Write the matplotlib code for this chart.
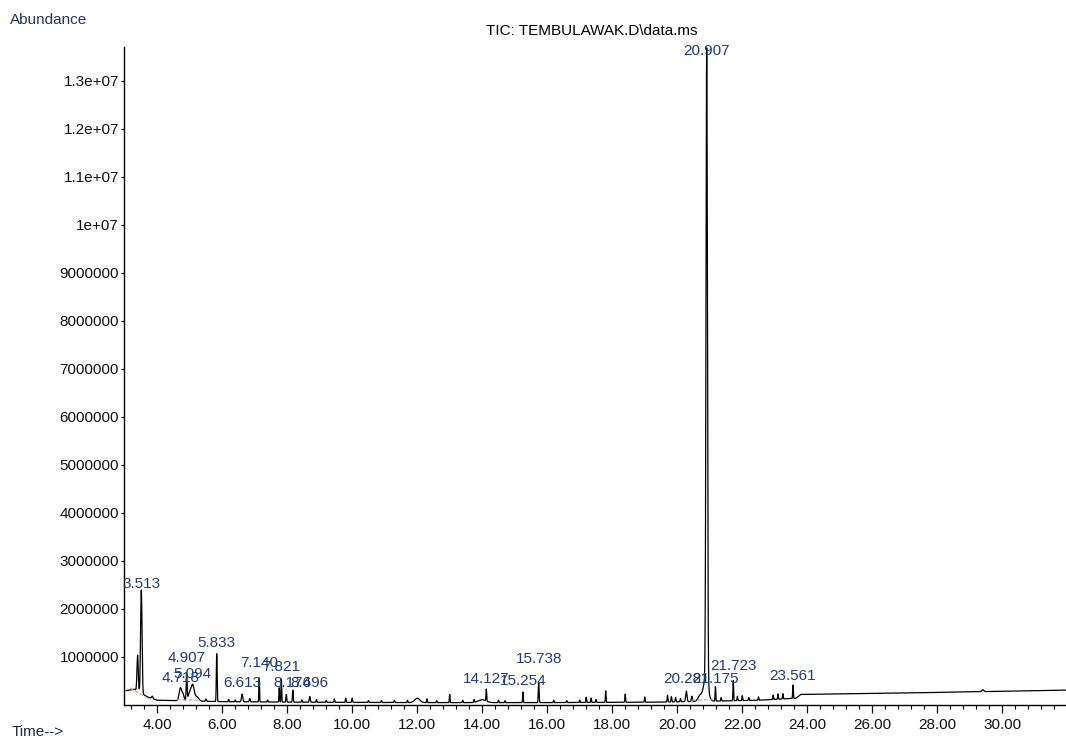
import numpy as np
import matplotlib
matplotlib.use('Agg')
import matplotlib.pyplot as plt
from matplotlib.ticker import FixedLocator, MultipleLocator

plt.rcParams['font.family'] = ['Liberation Sans', 'DejaVu Sans']

# peak table: retention time (min), height above baseline, sigma (min)
peak_rt = [3.40, 3.513, 3.85, 4.718, 4.80, 4.907, 5.00, 5.094, 5.22, 5.50,
           5.833, 6.20, 6.40, 6.613, 6.85, 7.140, 7.40, 7.757, 7.821, 7.974,
           8.174, 8.45, 8.696, 8.90, 9.20, 9.45, 9.80, 10.00, 10.50, 10.90,
           11.30, 11.70, 12.00, 12.30, 12.60, 13.00, 13.40, 13.75, 14.00, 14.127,
           14.50, 14.70, 15.254, 15.738, 16.20, 16.60, 17.00, 17.20, 17.35, 17.50,
           17.80, 18.40, 19.00, 19.70, 19.82, 19.95, 20.10, 20.281, 20.45, 20.70,
           20.88, 20.907, 21.175, 21.35, 21.723, 21.85, 22.00, 22.20, 22.50, 22.95,
           23.10, 23.25, 23.561, 29.40]
peak_height = [750000, 2150000, 50000, 270000, 120000, 540000, 170000, 320000, 90000, 50000,
               1000000, 50000, 40000, 160000, 70000, 500000, 40000, 300000, 480000, 160000,
               250000, 50000, 120000, 60000, 40000, 70000, 90000, 90000, 40000, 40000,
               50000, 50000, 90000, 80000, 40000, 170000, 50000, 60000, 60000, 250000,
               50000, 40000, 220000, 420000, 50000, 40000, 50000, 110000, 90000, 60000,
               240000, 170000, 110000, 140000, 110000, 90000, 70000, 220000, 110000, 120000,
               500000, 13150000, 300000, 70000, 420000, 90000, 100000, 60000, 70000, 90000,
               110000, 110000, 280000, 40000]
peak_sigma = [0.02, 0.022, 0.02, 0.04, 0.03, 0.014, 0.045, 0.045, 0.06, 0.015,
              0.012, 0.01, 0.01, 0.02, 0.015, 0.01, 0.01, 0.01, 0.01, 0.012,
              0.012, 0.01, 0.015, 0.01, 0.01, 0.01, 0.01, 0.012, 0.01, 0.01,
              0.01, 0.01, 0.08, 0.01, 0.01, 0.01, 0.01, 0.01, 0.12, 0.01,
              0.01, 0.01, 0.01, 0.012, 0.01, 0.01, 0.01, 0.01, 0.01, 0.01,
              0.01, 0.01, 0.01, 0.012, 0.012, 0.012, 0.012, 0.02, 0.015, 0.06,
              0.07, 0.022, 0.01, 0.01, 0.01, 0.01, 0.01, 0.01, 0.01, 0.01,
              0.01, 0.01, 0.01, 0.03]

# baseline drift read at a few times
baseline_rt = [3.05, 3.30, 3.70, 4.00, 4.60, 6.00, 8.00, 12.00, 16.00, 19.50,
               21.00, 22.50, 23.65, 23.80, 27.00, 31.96]
baseline_abund = [300000, 330000, 170000, 100000, 90000, 70000, 60000, 50000, 50000, 60000,
                  80000, 100000, 140000, 220000, 250000, 310000]

# integrator baselines (faint red segments)
integ_start = [(3.15, 360000), (4.60, 110000), (20.45, 100000)]
integ_end = [(3.75, 130000), (5.30, 100000), (21.10, 110000)]

# peak labels
label_text = ['3.513', '4.718', '4.907', '5.094', '5.833', '6.613', '7.140', '7.821',
              '8.174', '8.696', '14.127', '15.254', '15.738', '20.281', '20.907', '21.175', '21.723', '23.561']
label_rt = [float(s) for s in label_text]
label_y = [2440000, 480000, 900000, 560000, 1210000, 375000, 790000, 700000,
           375000, 375000, 460000, 420000, 875000, 460000, 13540000, 460000, 730000, 520000]

y_ticks = [1000000 * i for i in range(1, 14)]
y_tick_labels = ['1000000', '2000000', '3000000', '4000000', '5000000', '6000000', '7000000',
                 '8000000', '9000000', '1e+07', '1.1e+07', '1.2e+07', '1.3e+07']
x_ticks = list(range(4, 31, 2))
x_tick_labels = ['%.2f' % v for v in x_ticks]

label_color = '#1f3c78'


def build_trace(t):
    y = np.interp(t, baseline_rt, baseline_abund)
    for rt, h, s in zip(peak_rt, peak_height, peak_sigma):
        y = y + h * np.exp(-0.5 * ((t - rt) / s) ** 2)
    return y


fig = plt.figure(figsize=(10.66, 7.47), dpi=100)
ax = fig.add_axes([0.1163, 0.0562, 0.8837, 0.8809])

t = np.arange(3.05, 31.96, 0.002)
ax.plot(t, build_trace(t), color='black', lw=0.9, clip_on=False)

for (x0, y0), (x1, y1) in zip(integ_start, integ_end):
    ax.plot([x0, x1], [y0, y1], color='#d09a9a', lw=0.8, ls='--')

for txt, rt, ly in zip(label_text, label_rt, label_y):
    ax.text(rt, ly, txt, color=label_color, fontsize=11, ha='center', va='baseline', clip_on=False)

ax.set_xlim(2.98, 31.96)
ax.set_ylim(0, 13700000)

ax.spines['top'].set_visible(False)
ax.spines['right'].set_visible(False)
ax.spines['left'].set_linewidth(1.0)
ax.spines['bottom'].set_linewidth(1.0)

ax.yaxis.set_major_locator(FixedLocator(y_ticks))
ax.set_yticklabels(y_tick_labels)
ax.xaxis.set_major_locator(FixedLocator(x_ticks))
ax.set_xticklabels(x_tick_labels)
ax.xaxis.set_minor_locator(MultipleLocator(0.4))

ax.tick_params(axis='y', direction='out', length=2.5, width=0.8, pad=1, labelsize=11, colors='#111111')
ax.tick_params(axis='x', which='major', direction='out', length=5.5, width=0.9, pad=4, labelsize=11, colors='#111111')
ax.tick_params(axis='x', which='minor', direction='out', length=3, width=0.8)

fig.text(0.009, 0.973, 'Abundance', color='#1f3660', fontsize=11, ha='left', va='center')
fig.text(0.011, 0.011, 'Time-->', color='#1b2a4a', fontsize=11, ha='left', va='bottom')
fig.text(0.555, 0.953, 'TIC: TEMBULAWAK.D\\data.ms', color='black', fontsize=11, ha='center', va='baseline')

fig.savefig('out.png', dpi=100)
